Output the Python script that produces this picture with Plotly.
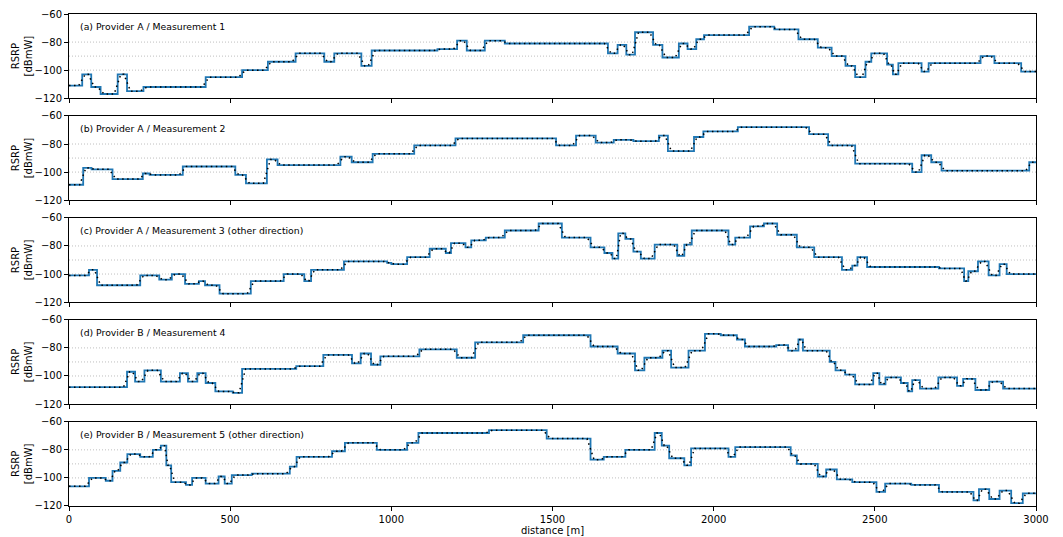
import plotly.graph_objects as go
from plotly.subplots import make_subplots

# ---------------- data (segment edges in m, RSRP values in dBmW) ----------------
a_edges = [0, 41, 69, 98, 151, 180, 231, 424, 537, 617, 703, 792, 823, 907, 939, 1143, 1204, 1234, 1290, 1352,
           1672, 1702, 1729, 1756, 1812, 1841, 1892, 1919, 1946, 1970, 2110, 2188, 2263, 2323, 2366, 2409, 2439,
           2471, 2489, 2538, 2556, 2573, 2645, 2667, 2828, 2871, 2954, 3000]
a_vals = [-111, -103, -112, -117, -103, -115, -112, -105, -100, -94, -88, -94, -88, -97, -86, -85, -79, -86, -79, -81,
          -88, -82, -89, -73, -82, -91, -81, -85, -78, -75, -69, -71, -78, -84, -90, -97, -105, -94, -88, -96,
          -103, -95, -101, -95, -90, -95, -101]

b_edges = [0, 44, 70, 135, 229, 250, 353, 516, 549, 614, 647, 842, 877, 942, 1071, 1199, 1511, 1573, 1634, 1690,
           1751, 1830, 1858, 1939, 1968, 2075, 2296, 2355, 2439, 2616, 2645, 2675, 2707, 2979, 3000]
b_vals = [-109, -97, -98, -105, -101, -102, -96, -102, -108, -91, -95, -89, -93, -87, -81, -76, -81, -74, -79, -77,
          -78, -74, -85, -75, -71, -68, -73, -81, -94, -100, -88, -93, -99, -93]

c_edges = [0, 62, 87, 221, 280, 319, 360, 403, 422, 467, 564, 666, 730, 751, 853, 987, 1000, 1049, 1119, 1169,
           1185, 1230, 1248, 1293, 1352, 1457, 1529, 1618, 1661, 1686, 1704, 1726, 1751, 1774, 1817, 1887, 1909,
           1932, 2046, 2067, 2113, 2156, 2197, 2258, 2312, 2398, 2430, 2446, 2476, 2699, 2777, 2790, 2820, 2853,
           2887, 2909, 3000]
c_vals = [-101, -97, -108, -101, -104, -100, -107, -105, -108, -114, -105, -100, -105, -97, -91, -92, -93, -88, -82,
          -85, -78, -81, -76, -74, -69, -64, -74, -81, -85, -89, -71, -75, -84, -89, -79, -87, -79, -69, -79, -74,
          -66, -64, -72, -81, -88, -97, -94, -88, -95, -96, -105, -98, -91, -101, -93, -100]

d_edges = [0, 180, 205, 234, 285, 344, 369, 398, 424, 454, 508, 537, 705, 789, 878, 905, 937, 966, 1087, 1203,
           1260, 1409, 1618, 1702, 1756, 1785, 1841, 1868, 1922, 1973, 2022, 2072, 2097, 2194, 2231, 2263, 2277,
           2360, 2378, 2408, 2439, 2495, 2514, 2533, 2581, 2602, 2616, 2640, 2697, 2755, 2774, 2812, 2855, 2898,
           3000]
d_vals = [-108, -97, -104, -96, -104, -98, -104, -98, -105, -111, -112, -95, -93, -85, -91, -84, -92, -86, -81, -87,
          -76, -71, -79, -84, -96, -87, -82, -94, -82, -70, -71, -74, -79, -78, -82, -74, -82, -90, -96, -99, -106,
          -98, -106, -101, -105, -111, -103, -109, -101, -107, -102, -110, -104, -109]

e_edges = [0, 62, 114, 135, 159, 181, 221, 260, 285, 302, 317, 363, 382, 424, 464, 483, 505, 567, 685, 706, 816,
           856, 955, 1049, 1084, 1303, 1482, 1618, 1659, 1726, 1817, 1839, 1862, 1909, 1930, 2046, 2067, 2239, 2258,
           2323, 2349, 2382, 2430, 2505, 2532, 2613, 2699, 2806, 2823, 2855, 2887, 2923, 2959, 3000]
e_vals = [-106, -100, -102, -95, -89, -83, -85, -80, -77, -91, -103, -105, -100, -104, -99, -104, -98, -97, -92, -85,
          -81, -75, -80, -75, -68, -66, -72, -87, -85, -80, -68, -77, -86, -91, -79, -85, -78, -84, -90, -99, -94,
          -101, -103, -110, -104, -105, -110, -116, -108, -115, -109, -118, -111]

panel_titles = ["(a) Provider A / Measurement 1",
                "(b) Provider A / Measurement 2",
                "(c) Provider A / Measurement 3 (other direction)",
                "(d) Provider B / Measurement 4",
                "(e) Provider B / Measurement 5 (other direction)"]
threshold_levels = [-80, -90, -100]
x_ticks = [0, 500, 1000, 1500, 2000, 2500, 3000]
y_ticks = [-120, -100, -80, -60]

panels = [(a_edges, a_vals), (b_edges, b_vals), (c_edges, c_vals), (d_edges, d_vals), (e_edges, e_vals)]

# ---------------- figure ----------------
# the page body has an 8px default margin, so the figure is 8px smaller than the window
W, H = 1055, 529
ML, MR, MT, MB = 61, 27, 6, 31
fig = make_subplots(rows=5, cols=1, shared_xaxes=True, vertical_spacing=0.036)

FONT = "DejaVu Sans"
BLUE = "#1f77b4"


def smooth_points(edges, vals, ramp=11.0):
    xs, ys = [], []
    n = len(vals)
    for i in range(n):
        s, e = edges[i], edges[i + 1]
        r = min(ramp, (e - s) / 3.0)
        xs.append(s + (r if i > 0 else 0))
        ys.append(vals[i])
        xs.append(e - (r if i < n - 1 else 0))
        ys.append(vals[i])
    return xs, ys


for i, (edges, vals) in enumerate(panels):
    row = i + 1
    fig.add_trace(go.Scatter(x=edges, y=vals + [vals[-1]], mode="lines",
                             line=dict(color=BLUE, width=1.8, shape="hv"),
                             showlegend=False, hoverinfo="skip"), row=row, col=1)
    sx, sy = smooth_points(edges, vals)
    fig.add_trace(go.Scatter(x=sx, y=sy, mode="lines",
                             line=dict(color="black", width=1.5, dash="1.5px,3.5px"),
                             showlegend=False, hoverinfo="skip"), row=row, col=1)
    for lvl in threshold_levels:
        fig.add_hline(y=lvl, line=dict(color="#b8b8b8", width=0.9, dash="1px,2px"),
                      layer="below", row=row, col=1)
    fig.add_annotation(text=panel_titles[i], xref="x domain" if row == 1 else f"x{row} domain",
                       yref="y domain" if row == 1 else f"y{row} domain",
                       x=0.009, y=0.935, xanchor="left", yanchor="top", showarrow=False,
                       font=dict(family=FONT, size=9.3, color="black"))
    fig.update_yaxes(range=[-120, -60], tickvals=y_ticks, ticks="outside", ticklen=4, tickwidth=1,
                     tickcolor="black", showline=True, mirror=True, linecolor="black", linewidth=1,
                     showgrid=False, zeroline=False, automargin=False,
                     tickfont=dict(family=FONT, size=10, color="black"),
                     title=dict(text="RSRP<br>[dBmW]", font=dict(family=FONT, size=10, color="black"),
                                standoff=0),
                     row=row, col=1)
    fig.update_xaxes(range=[0, 3000], tickvals=x_ticks, ticks="outside", ticklen=4, tickwidth=1,
                     tickcolor="black", showline=True, mirror=True, linecolor="black", linewidth=1,
                     showgrid=False, zeroline=False, automargin=False,
                     tickfont=dict(family=FONT, size=10, color="black"),
                     row=row, col=1)

fig.update_xaxes(title=dict(text="distance [m]", font=dict(family=FONT, size=10, color="black"), standoff=0),
                 row=5, col=1)

fig.update_layout(width=W, height=H, margin=dict(l=ML, r=MR, t=MT, b=MB),
                  paper_bgcolor="white", plot_bgcolor="white",
                  font=dict(family=FONT, size=10, color="black"), showlegend=False)

fig.write_html("out.html")
